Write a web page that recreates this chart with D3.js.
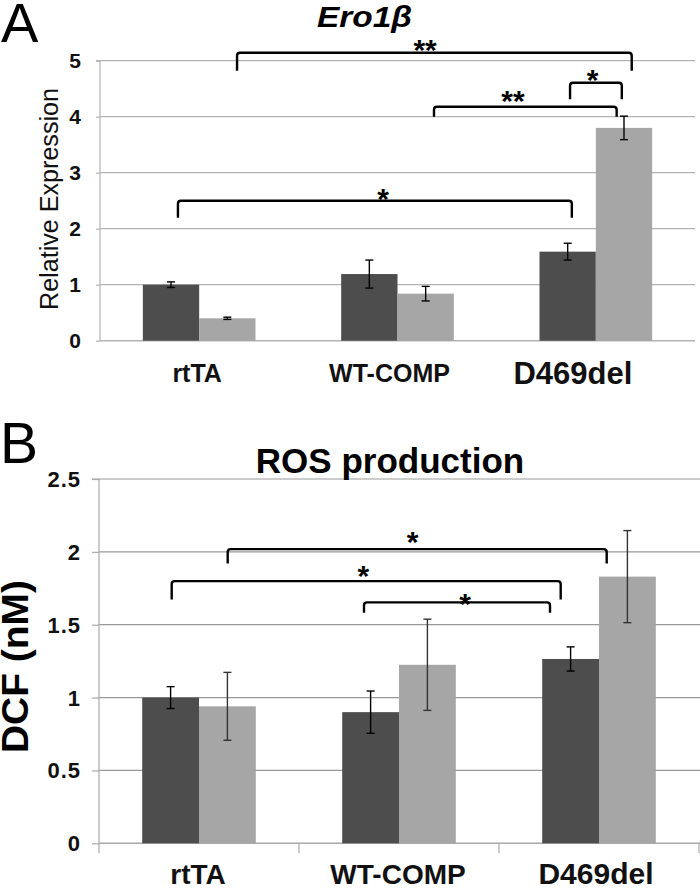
<!DOCTYPE html>
<html><head><meta charset="utf-8">
<script src="https://cdn.jsdelivr.net/npm/d3@7"></script>
<style>
html,body{margin:0;padding:0;background:#fff;}
svg{display:block;font-family:"Liberation Sans",Arial,sans-serif;}
</style></head>
<body>
<svg id="chart" width="700" height="890"></svg>
<script>
// ---------- DATA ----------
const categories = ["rtTA", "WT-COMP", "D469del"];

// Panel A: Ero1β relative expression
const aDark = [1.00, 1.19, 1.59];
const aDarkErr = [0.05, 0.25, 0.15];
const aLight = [0.40, 0.84, 3.80];
const aLightErr = [0.02, 0.13, 0.21];
const aTicks = [0, 1, 2, 3, 4, 5];
// significance brackets (x in category units 0..3, y in data units)
const aBrackets = [
  {x1: 0.691, x2: 2.681, y: 5.143, foot: 4.82, label: "**", lx: 1.639, ly: 5.325},
  {x1: 2.370, x2: 2.631, y: 4.607, foot: 4.31, label: "*",  lx: 2.484, ly: 4.789},
  {x1: 1.684, x2: 2.605, y: 4.179, foot: 4.00, label: "**", lx: 2.082, ly: 4.405},
  {x1: 0.393, x2: 2.379, y: 2.500, foot: 2.196, label: "*", lx: 1.427, ly: 2.661}
];

// Panel B: ROS production
const bDark = [1.00, 0.90, 1.265];
const bDarkErr = [0.075, 0.145, 0.083];
const bLight = [0.94, 1.225, 1.83];
const bLightErr = [0.233, 0.313, 0.316];
const bTicks = [0, 0.5, 1, 1.5, 2, 2.5];
const bBrackets = [
  {x1: 0.6435, x2: 2.5385, y: 2.019, foot: 1.920, label: "*", lx: 1.5685, ly: 2.115},
  {x1: 0.3635, x2: 2.3085, y: 1.799, foot: 1.673, label: "*", lx: 1.3215, ly: 1.881},
  {x1: 1.325,  x2: 2.255,  y: 1.653, foot: 1.582, label: "*", lx: 1.83,   ly: 1.689}
];

// ---------- DRAW ----------
const svg = d3.select("#chart");
const FONT = '"Liberation Sans", Arial, sans-serif';
const DARK = "#4d4d4d", LIGHT = "#a6a6a6";

function panel(cfg) {
  const g = svg.append("g");
  const xCat = d3.scaleBand().domain(categories).range([cfg.left, cfg.right]).padding(0);
  const xPos = d3.scaleLinear().domain([0, categories.length]).range([cfg.left, cfg.right]);
  const y = d3.scaleLinear().domain(cfg.domain).range([cfg.bottom, cfg.top]);
  const barW = xCat.step() * 0.284;

  // gridlines
  g.selectAll("line.grid").data(cfg.ticks.filter(t => t > 0)).enter().append("line")
    .attr("x1", cfg.left).attr("x2", cfg.gridRight)
    .attr("y1", d => y(d)).attr("y2", d => y(d))
    .attr("stroke", cfg.gridColor).attr("stroke-width", 1.2);

  // y axis
  const yAxis = d3.axisLeft(y).tickValues(cfg.ticks).tickSize(cfg.tickLen).tickFormat("");
  const ya = g.append("g").attr("transform", `translate(${cfg.left},0)`).call(yAxis);
  ya.select(".domain").attr("stroke", cfg.axisColor).attr("stroke-width", 1.2)
    .attr("d", `M-${cfg.tickLen},${cfg.top}H0V${cfg.bottom + cfg.axisExtend}`);
  ya.selectAll(".tick line").attr("stroke", cfg.axisColor).attr("stroke-width", 1.2);

  // tick labels
  g.selectAll("text.ytl").data(cfg.ticks).enter().append("text")
    .attr("x", cfg.tickLabelX).attr("y", d => y(d))
    .attr("dy", "0.36em").attr("text-anchor", "end")
    .attr("font-family", FONT).attr("font-weight", "bold")
    .attr("font-size", cfg.tickFont).attr("letter-spacing", cfg.tickSpacing).attr("fill", "#111")
    .text(d => String(d));

  // x axis line
  g.append("line").attr("x1", cfg.left).attr("x2", cfg.gridRight)
    .attr("y1", y(0)).attr("y2", y(0)).attr("stroke", cfg.axisColor).attr("stroke-width", 1.4);
  if (cfg.catTicks) {
    g.selectAll("line.ct").data(categories).enter().append("line")
      .attr("x1", (d, i) => xPos(i + 1)).attr("x2", (d, i) => xPos(i + 1))
      .attr("y1", y(0)).attr("y2", y(0) + cfg.axisExtend)
      .attr("stroke", cfg.axisColor).attr("stroke-width", 1.2);
  }

  // bars
  const series = [
    {vals: cfg.dark, errs: cfg.darkErr, color: DARK, off: -1, errColor: "#000"},
    {vals: cfg.light, errs: cfg.lightErr, color: LIGHT, off: 0, errColor: cfg.lightErrColor}
  ];
  series.forEach(s => {
    const rows = categories.map((c, i) => ({c, v: s.vals[i], e: s.errs[i]}));
    g.selectAll(null).data(rows).enter().append("rect")
      .attr("x", d => xCat(d.c) + xCat.step() / 2 + s.off * barW)
      .attr("width", barW)
      .attr("y", d => y(d.v)).attr("height", d => y(0) - y(d.v))
      .attr("fill", s.color);
    const eg = g.selectAll(null).data(rows).enter().append("g")
      .attr("stroke", s.errColor).attr("stroke-width", 1.4);
    const cx = d => xCat(d.c) + xCat.step() / 2 + s.off * barW + barW / 2;
    eg.append("line").attr("x1", cx).attr("x2", cx)
      .attr("y1", d => y(d.v + d.e)).attr("y2", d => y(d.v - d.e));
    eg.append("line").attr("x1", d => cx(d) - 4).attr("x2", d => cx(d) + 4)
      .attr("y1", d => y(d.v + d.e)).attr("y2", d => y(d.v + d.e));
    eg.append("line").attr("x1", d => cx(d) - 4).attr("x2", d => cx(d) + 4)
      .attr("y1", d => y(d.v - d.e)).attr("y2", d => y(d.v - d.e));
  });

  // category labels
  g.selectAll("text.xl").data(categories).enter().append("text")
    .attr("x", (d, i) => xCat(d) + xCat.step() / 2 + cfg.labelDx[i])
    .attr("y", (d, i) => cfg.labelY[i])
    .attr("text-anchor", "middle").attr("font-family", FONT).attr("font-weight", "bold")
    .attr("font-size", (d, i) => cfg.labelFont[i]).attr("fill", "#111")
    .text(d => d);

  // significance brackets
  cfg.brackets.forEach(b => {
    const x1 = xPos(b.x1), x2 = xPos(b.x2), yy = y(b.y), yf = y(b.foot), r = 3;
    g.append("path")
      .attr("d", `M${x1},${yf}L${x1},${yy + r}Q${x1},${yy} ${x1 + r},${yy}L${x2 - r},${yy}Q${x2},${yy} ${x2},${yy + r}L${x2},${yf}`)
      .attr("fill", "none").attr("stroke", "#000").attr("stroke-width", 2.4);
    g.append("text").attr("x", xPos(b.lx)).attr("y", y(b.ly) + 17)
      .attr("text-anchor", "middle").attr("font-family", FONT).attr("font-weight", "bold")
      .attr("font-size", 30).attr("fill", "#000").text(b.label);
  });
  return {g, y};
}

// Panel A
panel({
  left: 100, right: 695, gridRight: 695, top: 60.7, bottom: 340.7, domain: [0, 5],
  ticks: aTicks, gridColor: "#b3b3b3", axisColor: "#b3b3b3", tickLen: 4, axisExtend: 0,
  tickLabelX: 81, tickFont: 21, tickSpacing: 0, catTicks: false,
  dark: aDark, darkErr: aDarkErr, light: aLight, lightErr: aLightErr, lightErrColor: "#000",
  labelDx: [-2, -8, -23], labelY: [381.7, 381.7, 384], labelFont: [25, 25, 31],
  brackets: aBrackets
});

// Panel B
panel({
  left: 99, right: 699, gridRight: 700, top: 479, bottom: 843.3, domain: [0, 2.5],
  ticks: bTicks, gridColor: "#999", axisColor: "#aaa", tickLen: 7, axisExtend: 10,
  tickLabelX: 81, tickFont: 22, tickSpacing: 1, catTicks: true,
  dark: bDark, darkErr: bDarkErr, light: bLight, lightErr: bLightErr, lightErrColor: "#333",
  labelDx: [-1, -1, -3], labelY: [884, 884, 884], labelFont: [28, 28, 30],
  brackets: bBrackets
});

// Panel letters and titles
svg.append("text").attr("x", 1).attr("y", 41.5).attr("font-family", FONT)
  .attr("font-size", 56).attr("fill", "#000").text("A");
svg.append("text").attr("x", 0).attr("y", 463).attr("font-family", FONT)
  .attr("font-size", 57).attr("fill", "#000").text("B");

svg.append("text").attr("x", 317).attr("y", 26.5).attr("font-family", FONT)
  .attr("font-weight", "bold").attr("font-style", "italic").attr("font-size", 30)
  .attr("textLength", 95).attr("lengthAdjust", "spacingAndGlyphs").attr("fill", "#000").text("Ero1β");

svg.append("text").attr("x", 390).attr("y", 473).attr("text-anchor", "middle")
  .attr("font-family", FONT).attr("font-weight", "bold").attr("font-size", 35)
  .attr("fill", "#000").text("ROS production");

// y titles
svg.append("text").attr("transform", "translate(57.8,199) rotate(-90)")
  .attr("text-anchor", "middle").attr("font-family", FONT).attr("font-size", 25)
  .attr("textLength", 222).attr("lengthAdjust", "spacingAndGlyphs")
  .attr("fill", "#111").text("Relative Expression");

svg.append("text").attr("transform", "translate(28,666.5) rotate(-90)")
  .attr("text-anchor", "middle").attr("font-family", FONT).attr("font-weight", "bold")
  .attr("font-size", 37).attr("textLength", 173).attr("lengthAdjust", "spacingAndGlyphs")
  .attr("fill", "#000").text("DCF (nM)");
</script>
</body></html>
